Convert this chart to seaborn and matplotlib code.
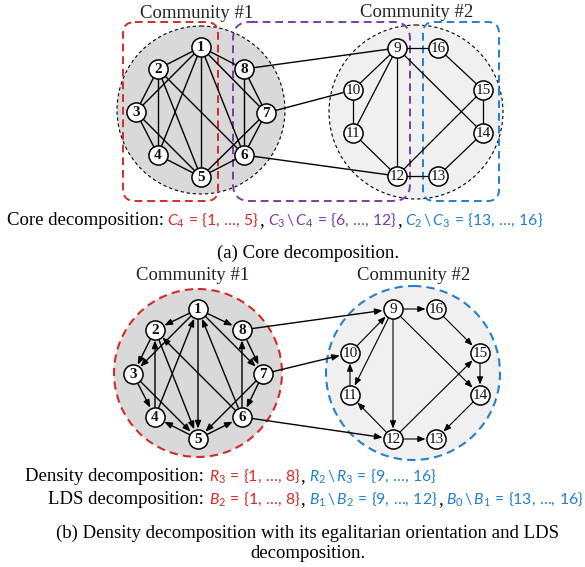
import matplotlib
matplotlib.use("Agg")
import matplotlib.pyplot as plt
from matplotlib.patches import Circle, FancyBboxPatch, FancyArrowPatch
import seaborn as sns
import pandas as pd

sns.set_theme(style="white")
plt.rcParams["font.family"] = ["Liberation Serif", "DejaVu Serif"]
plt.rcParams["mathtext.fontset"] = "custom"
plt.rcParams["mathtext.rm"] = "Lato"
plt.rcParams["mathtext.it"] = "Lato:italic"
plt.rcParams["mathtext.bf"] = "Lato:bold"

RED = "#d42a2a"
PURPLE = "#7a3ca8"
BLUE = "#2280cc"

# nodes 1..16, centres for panel (a) and panel (b)
node_ids = list(range(1, 17))
a_x = [201, 158, 136, 158, 201, 244, 266, 244, 397, 353, 353, 397, 438, 483, 483, 438]
a_y = [47, 69, 112, 155, 177, 155, 113, 69, 48, 90, 133, 176, 176, 133, 90, 48]
b_x = [198, 155, 133, 155, 198, 242, 263, 242, 393, 350, 350, 393, 436, 480, 480, 436]
b_y = [309, 330, 374, 417, 439, 417, 374, 330, 309, 353, 395, 439, 439, 395, 353, 309]

# undirected edges (core decomposition)
edges = [(1, 2), (1, 3), (1, 4), (1, 5), (1, 6), (1, 7), (1, 8),
         (2, 3), (2, 4), (2, 5), (2, 6), (3, 4), (3, 5), (4, 5),
         (5, 6), (5, 7), (6, 7), (6, 8), (7, 8),
         (8, 9), (7, 10), (6, 12),
         (9, 16), (9, 10), (9, 11), (9, 12), (9, 14), (10, 11), (11, 12),
         (12, 13), (12, 15), (13, 14), (14, 15), (15, 16)]

# egalitarian orientation
arcs = [(1, 2), (1, 3), (1, 5), (1, 7), (1, 8), (4, 1), (6, 1),
        (2, 3), (4, 2), (2, 5), (6, 2), (3, 4), (3, 5), (5, 4),
        (5, 6), (7, 5), (7, 6), (6, 8), (8, 7),
        (8, 9), (7, 10), (6, 12),
        (9, 16), (10, 9), (9, 11), (9, 12), (9, 14), (11, 10), (12, 11),
        (12, 13), (12, 15), (14, 13), (15, 14), (16, 15)]

fig = plt.figure(figsize=(5.85, 5.67), dpi=100)
ax = fig.add_axes([0, 0, 1, 1])

# community discs
ax.add_patch(Circle((201, 110), 84, fc="#d9d9d9", ec="black", lw=0.8, ls=(0, (3, 2.5)), zorder=0))
ax.add_patch(Circle((416, 112), 87, fc="#f0f0f0", ec="black", lw=0.8, ls=(0, (3, 2.5)), zorder=0))
ax.add_patch(Circle((198, 373), 84, fc="#d9d9d9", ec=RED, lw=1.5, ls=(0, (4, 2.5)), zorder=0))
ax.add_patch(Circle((413, 373), 87, fc="#f0f0f0", ec=BLUE, lw=1.5, ls=(0, (4, 2.5)), zorder=0))

# core boxes
for (x0, x1), col, rnd in [((123, 218), RED, 12), ((233, 410), PURPLE, 17), ((423, 499), BLUE, 11)]:
    ax.add_patch(FancyBboxPatch((x0, 22), x1 - x0, 179,
                                boxstyle=f"round,pad=0,rounding_size={rnd}",
                                fc="none", ec=col, lw=1.4, ls=(0, (4, 2.5)), zorder=1.5))

# edges, panel (a)
for u, v in edges:
    ax.plot([a_x[u - 1], a_x[v - 1]], [a_y[u - 1], a_y[v - 1]], color="black", lw=1.0 if u <= 8 else 0.9, zorder=2)

# arcs, panel (b)
for u, v in arcs:
    arr = FancyArrowPatch((b_x[u - 1], b_y[u - 1]), (b_x[v - 1], b_y[v - 1]),
                          arrowstyle="-|>,head_length=0.45,head_width=0.18", mutation_scale=10,
                          shrinkA=7, shrinkB=7.5, color="black", lw=1.0 if u <= 8 else 0.8, zorder=2)
    ax.add_patch(arr)

# nodes
nodes = pd.DataFrame({"id": node_ids * 2, "x": a_x + b_x, "y": a_y + b_y})
sns.scatterplot(data=nodes, x="x", y="y", s=190, color="white", edgecolor="black",
                linewidth=1.1, ax=ax, zorder=3, legend=False)
ax.set_xlim(0, 585)
ax.set_ylim(567, 0)
ax.set_aspect("equal")
ax.axis("off")
for i, x, y in zip(nodes["id"], nodes["x"], nodes["y"]):
    ax.text(x, y + 0.5, str(i), ha="center", va="center", fontsize=11,
            fontweight="bold" if i <= 8 else "normal", color="#111111", zorder=4)

# titles
for x, y, s in [(197, 18, "Community #1"), (417, 17, "Community #2"),
                (193, 280, "Community #1"), (414, 280, "Community #2")]:
    ax.text(x, y, s, ha="center", va="baseline", fontsize=13.5, color="#222222")

renderer = fig.canvas.get_renderer()


def write_pieces(x, y, pieces, size=11.3):
    for s, col, gap in pieces:
        fs = size if s.startswith("$") else 13.5
        t = ax.text(x, y, s, ha="left", va="baseline", fontsize=fs, color=col)
        x += t.get_window_extent(renderer).width + gap


core_label = "Core decomposition:"
core_sets = [r"$C_4 \,=\, \{1,\,\ldots,\,5\}$", r"$C_3 \,\backslash\, C_4 \,=\, \{6,\,\ldots,\,12\}$",
             r"$C_2 \,\backslash\, C_3 \,=\, \{13,\,\ldots,\,16\}$"]
dens_label = "Density decomposition:"
dens_sets = [r"$R_3 \,=\, \{1,\,\ldots,\,8\}$", r"$R_2 \,\backslash\, R_3 \,=\, \{9,\,\ldots,\,16\}$"]
lds_label = "LDS decomposition:"
lds_sets = [r"$B_2 \,=\, \{1,\,\ldots,\,8\}$", r"$B_1 \,\backslash\, B_2 \,=\, \{9,\,\ldots,\,12\}$",
            r"$B_0 \,\backslash\, B_1 \,=\, \{13,\,\ldots,\,16\}$"]

ax.text(7, 225, core_label, ha="left", va="baseline", fontsize=13.5, color="black")
write_pieces(167, 225, [(core_sets[0], RED, 0), (",", "black", 4), (core_sets[1], PURPLE, 0),
                        (",", "black", 4), (core_sets[2], BLUE, 0)])
ax.text(308, 258, "(a) Core decomposition.", ha="center", va="baseline", fontsize=13.5, color="black")

ax.text(204, 481, dens_label, ha="right", va="baseline", fontsize=13.5, color="black")
write_pieces(209, 481, [(dens_sets[0], RED, 0), (",", "black", 4), (dens_sets[1], BLUE, 0)])
ax.text(204, 504, lds_label, ha="right", va="baseline", fontsize=13.5, color="black")
write_pieces(209, 504, [(lds_sets[0], RED, 0), (",", "black", 4), (lds_sets[1], BLUE, 0),
                        (",", "black", 4), (lds_sets[2], BLUE, 0)])
ax.text(308, 538, "(b) Density decomposition with its egalitarian orientation and LDS",
        ha="center", va="baseline", fontsize=13.5, color="black")
ax.text(308, 558, "decomposition.", ha="center", va="baseline", fontsize=13.5, color="black")

fig.savefig("out.png", dpi=100)
